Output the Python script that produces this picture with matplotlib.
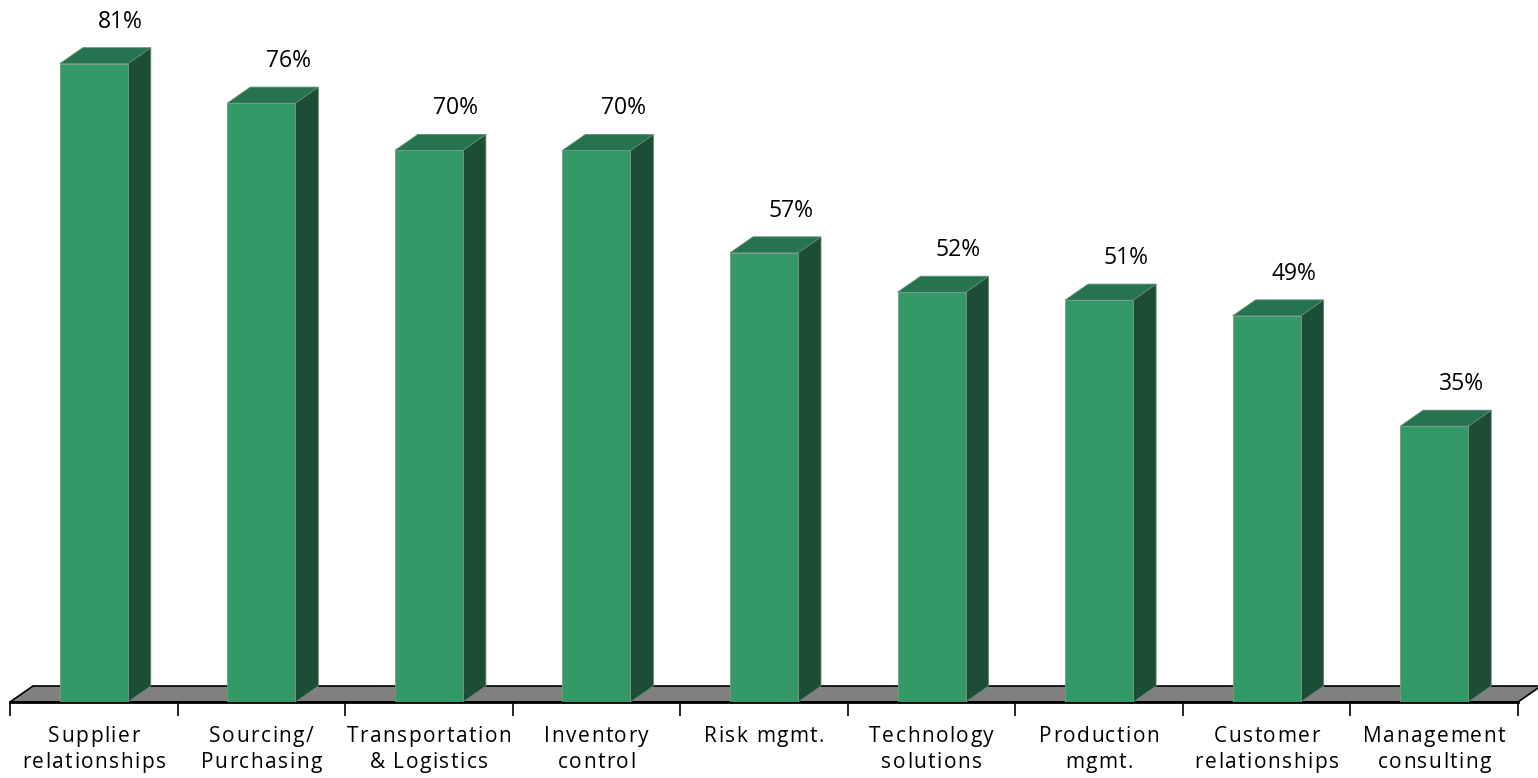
import numpy as np
import matplotlib
matplotlib.use("Agg")
import matplotlib.pyplot as plt
from matplotlib.patches import Polygon, Rectangle
from matplotlib.font_manager import FontProperties
from matplotlib.transforms import IdentityTransform

plt.rcParams['font.family'] = ['Open Sans', 'DejaVu Sans']

categories = ['Supplier\nrelationships', 'Sourcing/\nPurchasing', 'Transportation\n& Logistics',
              'Inventory\ncontrol', 'Risk mgmt.', 'Technology\nsolutions', 'Production\nmgmt.',
              'Customer\nrelationships', 'Management\nconsulting']
values = [81, 76, 70, 70, 57, 52, 51, 49, 35]

front_c = '#339966'
top_c = '#267350'
side_c = '#1e4d35'
floor_c = '#808080'

fig = plt.figure(figsize=(15.38, 7.78), dpi=100)
ax = fig.add_axes([10/1538, 76/778, 1508/1538, 702/778])
n = len(values)
ax.set_xlim(0, n)
ax.set_ylim(0, 702/7.88)

# depth of the fake 3d boxes, in data units
ddx = 23/167.6
ddy = 16/7.88
w = 68/167.6

# floor
floor = Polygon([(0, 0), (n, 0), (n+ddx, ddy), (ddx, ddy)], closed=True,
                facecolor=floor_c, edgecolor='black', lw=1.2, clip_on=False, zorder=1)
ax.add_patch(floor)
ax.plot([0, n], [0, 0], color='black', lw=2, clip_on=False, zorder=1.5)

for i, v in enumerate(values):
    x0 = i + 0.5 - w/2
    x1 = i + 0.5 + w/2
    side = Polygon([(x1, 0), (x1+ddx, ddy), (x1+ddx, v+ddy), (x1, v)], closed=True,
                   facecolor=side_c, edgecolor='#5f8a73', lw=0.6, zorder=2)
    top = Polygon([(x0, v), (x0+ddx, v+ddy), (x1+ddx, v+ddy), (x1, v)], closed=True,
                  facecolor=top_c, edgecolor='#5f8a73', lw=0.6, zorder=2)
    front = Rectangle((x0, 0), w, v, facecolor=front_c, edgecolor='#7a9a88', lw=0.6, zorder=3)
    ax.add_patch(side)
    ax.add_patch(top)
    ax.add_patch(front)
    ax.text(i + 0.5 + 27/167.6, v + ddy + 20/7.88, f'{v}%', ha='center', va='baseline',
            fontsize=16.5, color='black', zorder=4)

# tick marks between categories, labels drawn by hand below
ax.set_xticks(np.arange(n + 1))
ax.set_xticklabels([])
ax.tick_params(axis='x', length=10, width=1.2, color='black')
ax.set_yticks([])
for s in ax.spines.values():
    s.set_visible(False)

# category labels with extra letter spacing
prop = FontProperties(family=['Open Sans', 'DejaVu Sans'], size=15)
renderer = fig.canvas.get_renderer()
spacing = 1.5
baselines = [36, 10]  # pixels from bottom

def text_w(s):
    if not s:
        return 0.0
    return renderer.get_text_width_height_descent(s.replace(' ', '\u00a0'), prop, ismath=False)[0]

for i, lab in enumerate(categories):
    cx = ax.transData.transform((i + 0.5, 0))[0]
    for line, yb in zip(lab.split('\n'), baselines):
        total = text_w(line) + spacing * (len(line) - 1)
        left = cx - total / 2
        for k, ch in enumerate(line):
            if ch == ' ':
                continue
            fig.text(left + text_w(line[:k]) + spacing * k, yb, ch, fontproperties=prop,
                     ha='left', va='baseline', transform=IdentityTransform())

fig.savefig('out.png', dpi=100)
